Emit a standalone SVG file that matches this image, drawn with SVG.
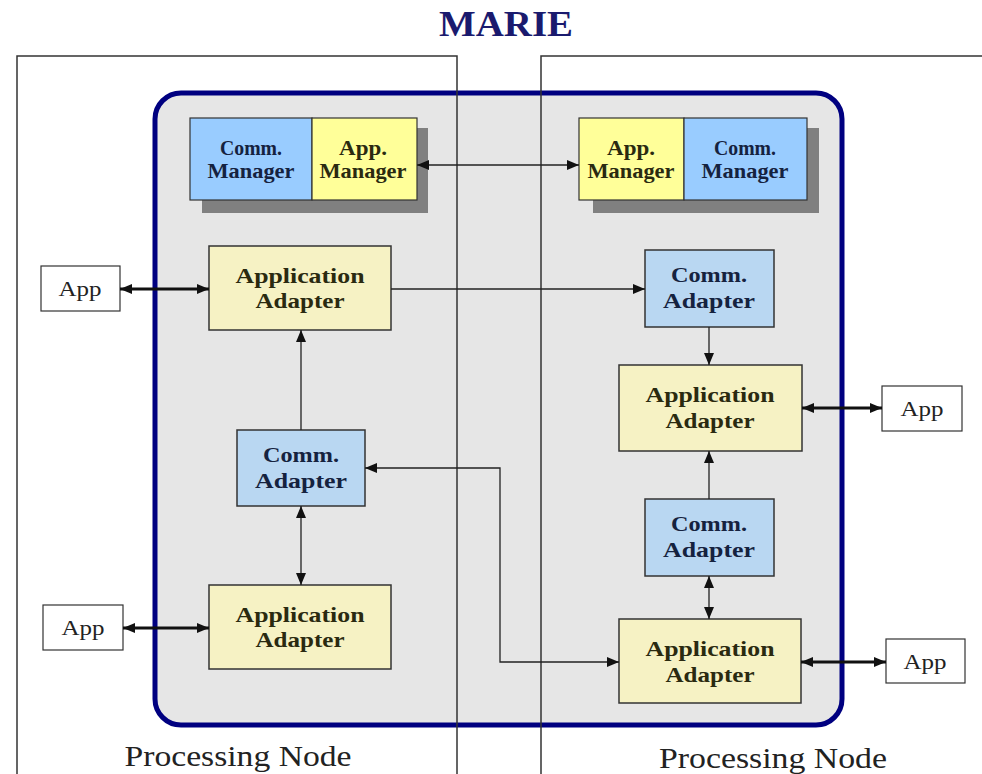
<svg xmlns="http://www.w3.org/2000/svg" width="982" height="774" viewBox="0 0 982 774">
<style>
.panel{fill:none;stroke:#333;stroke-width:1.5}
.shadow{fill:#808080}
.cm{fill:#99ccff;stroke:#333;stroke-width:1.2}
.am{fill:#ffff99;stroke:#333;stroke-width:1.2}
.ca{fill:#b9d7f2;stroke:#333;stroke-width:1.5}
.aa{fill:#f6f2c4;stroke:#333;stroke-width:1.5}
.app{fill:#fff;stroke:#333;stroke-width:1.2}
.bt{font-family:"Liberation Serif","Times New Roman",serif;font-weight:bold;text-anchor:middle}
.tc{fill:#15223f}
.ty{fill:#2a2a10}
.rt{font-family:"Liberation Serif","Times New Roman",serif;text-anchor:middle;fill:#222}
.thin{fill:none;stroke:#222;stroke-width:1.3}
.thick{fill:none;stroke:#111;stroke-width:3}
</style>
<defs>
<marker id="ah" markerUnits="userSpaceOnUse" markerWidth="12" markerHeight="10" refX="12" refY="5" orient="auto-start-reverse">
<path d="M0,0 L12,5 L0,10 Z" fill="#111"/>
</marker>
</defs>
<rect width="982" height="774" fill="#fff"/>
<text x="506" y="36" class="bt" font-size="36" fill="#1a1a6e" textLength="134" lengthAdjust="spacingAndGlyphs">MARIE</text>
<g id="marie-frame">
<rect x="155" y="93" width="687" height="632" rx="26" fill="#e6e6e6" stroke="#000080" stroke-width="5"/>
</g>
<g id="panels">
<path class="panel" d="M17,774 V56 H457 V774"/>
<path class="panel" d="M541,774 V56 H982"/>
</g>
<g id="left-managers">
<rect class="shadow" x="202" y="128" width="226" height="85"/>
<rect class="cm" x="190" y="118" width="122" height="82"/>
<rect class="am" x="312" y="118" width="105" height="82"/>
<text class="bt tc" font-size="21" x="251" y="155" textLength="62" lengthAdjust="spacingAndGlyphs">Comm.</text>
<text class="bt tc" font-size="21" x="251" y="178" textLength="87" lengthAdjust="spacingAndGlyphs">Manager</text>
<text class="bt ty" font-size="21" x="363" y="155" textLength="48" lengthAdjust="spacingAndGlyphs">App.</text>
<text class="bt ty" font-size="21" x="363" y="178" textLength="87" lengthAdjust="spacingAndGlyphs">Manager</text>
</g>
<g id="right-managers">
<rect class="shadow" x="593" y="128" width="226" height="85"/>
<rect class="am" x="579" y="118" width="105" height="82"/>
<rect class="cm" x="684" y="118" width="123" height="82"/>
<text class="bt ty" font-size="21" x="631" y="155" textLength="48" lengthAdjust="spacingAndGlyphs">App.</text>
<text class="bt ty" font-size="21" x="631" y="178" textLength="87" lengthAdjust="spacingAndGlyphs">Manager</text>
<text class="bt tc" font-size="21" x="745" y="155" textLength="62" lengthAdjust="spacingAndGlyphs">Comm.</text>
<text class="bt tc" font-size="21" x="745" y="178" textLength="87" lengthAdjust="spacingAndGlyphs">Manager</text>
</g>
<g id="left-app-adapter-top">
<rect class="aa" x="209" y="246" width="182" height="84"/>
<text class="bt ty" font-size="21" x="300" y="283" textLength="129" lengthAdjust="spacingAndGlyphs">Application</text>
<text class="bt ty" font-size="21" x="300" y="308" textLength="89" lengthAdjust="spacingAndGlyphs">Adapter</text>
</g>
<g id="left-app-top">
<rect class="app" x="41" y="266" width="79" height="45"/>
<text class="rt" font-size="20" x="80" y="296" textLength="43" lengthAdjust="spacingAndGlyphs">App</text>
</g>
<g id="left-comm-adapter">
<rect class="ca" x="237" y="430" width="128" height="76"/>
<text class="bt tc" font-size="22" x="301" y="462" textLength="76" lengthAdjust="spacingAndGlyphs">Comm.</text>
<text class="bt tc" font-size="22" x="301" y="488" textLength="92" lengthAdjust="spacingAndGlyphs">Adapter</text>
</g>
<g id="left-app-adapter-bottom">
<rect class="aa" x="209" y="585" width="182" height="84"/>
<text class="bt ty" font-size="21" x="300" y="622" textLength="129" lengthAdjust="spacingAndGlyphs">Application</text>
<text class="bt ty" font-size="21" x="300" y="647" textLength="89" lengthAdjust="spacingAndGlyphs">Adapter</text>
</g>
<g id="left-app-bottom">
<rect class="app" x="43" y="605" width="80" height="45"/>
<text class="rt" font-size="20" x="83" y="635" textLength="43" lengthAdjust="spacingAndGlyphs">App</text>
</g>
<g id="right-comm-adapter-top">
<rect class="ca" x="645" y="250" width="129" height="77"/>
<text class="bt tc" font-size="22" x="709" y="282" textLength="76" lengthAdjust="spacingAndGlyphs">Comm.</text>
<text class="bt tc" font-size="22" x="709" y="308" textLength="92" lengthAdjust="spacingAndGlyphs">Adapter</text>
</g>
<g id="right-app-adapter-top">
<rect class="aa" x="619" y="365" width="183" height="86"/>
<text class="bt ty" font-size="21" x="710" y="402" textLength="129" lengthAdjust="spacingAndGlyphs">Application</text>
<text class="bt ty" font-size="21" x="710" y="428" textLength="89" lengthAdjust="spacingAndGlyphs">Adapter</text>
</g>
<g id="right-app-top">
<rect class="app" x="882" y="386" width="80" height="45"/>
<text class="rt" font-size="20" x="922" y="416" textLength="43" lengthAdjust="spacingAndGlyphs">App</text>
</g>
<g id="right-comm-adapter-bottom">
<rect class="ca" x="645" y="499" width="129" height="77"/>
<text class="bt tc" font-size="22" x="709" y="531" textLength="76" lengthAdjust="spacingAndGlyphs">Comm.</text>
<text class="bt tc" font-size="22" x="709" y="557" textLength="92" lengthAdjust="spacingAndGlyphs">Adapter</text>
</g>
<g id="right-app-adapter-bottom">
<rect class="aa" x="619" y="619" width="182" height="84"/>
<text class="bt ty" font-size="21" x="710" y="656" textLength="129" lengthAdjust="spacingAndGlyphs">Application</text>
<text class="bt ty" font-size="21" x="710" y="682" textLength="89" lengthAdjust="spacingAndGlyphs">Adapter</text>
</g>
<g id="right-app-bottom">
<rect class="app" x="886" y="639" width="79" height="44"/>
<text class="rt" font-size="20" x="925" y="669" textLength="43" lengthAdjust="spacingAndGlyphs">App</text>
</g>
<g id="labels">
<text class="rt" font-size="30" x="238" y="766" textLength="227" lengthAdjust="spacingAndGlyphs">Processing Node</text>
<text class="rt" font-size="30" x="773" y="768" textLength="228" lengthAdjust="spacingAndGlyphs">Processing Node</text>
</g>
<g id="connectors">
<path class="thin" d="M417,165 H579" marker-start="url(#ah)" marker-end="url(#ah)"/>
<path class="thin" d="M391,289 H645" marker-end="url(#ah)"/>
<path class="thin" d="M709,327 V365" marker-end="url(#ah)"/>
<path class="thin" d="M301,430 V330" marker-end="url(#ah)"/>
<path class="thin" d="M301,506 V585" marker-start="url(#ah)" marker-end="url(#ah)"/>
<path class="thin" d="M365,468 H500 V662 H619" marker-start="url(#ah)" marker-end="url(#ah)"/>
<path class="thin" d="M709,499 V451" marker-end="url(#ah)"/>
<path class="thin" d="M709,576 V619" marker-start="url(#ah)" marker-end="url(#ah)"/>
<path class="thick" d="M120,289 H209" marker-start="url(#ah)" marker-end="url(#ah)"/>
<path class="thick" d="M123,628 H209" marker-start="url(#ah)" marker-end="url(#ah)"/>
<path class="thick" d="M802,408 H882" marker-start="url(#ah)" marker-end="url(#ah)"/>
<path class="thick" d="M801,662 H886" marker-start="url(#ah)" marker-end="url(#ah)"/>
</g>
</svg>
